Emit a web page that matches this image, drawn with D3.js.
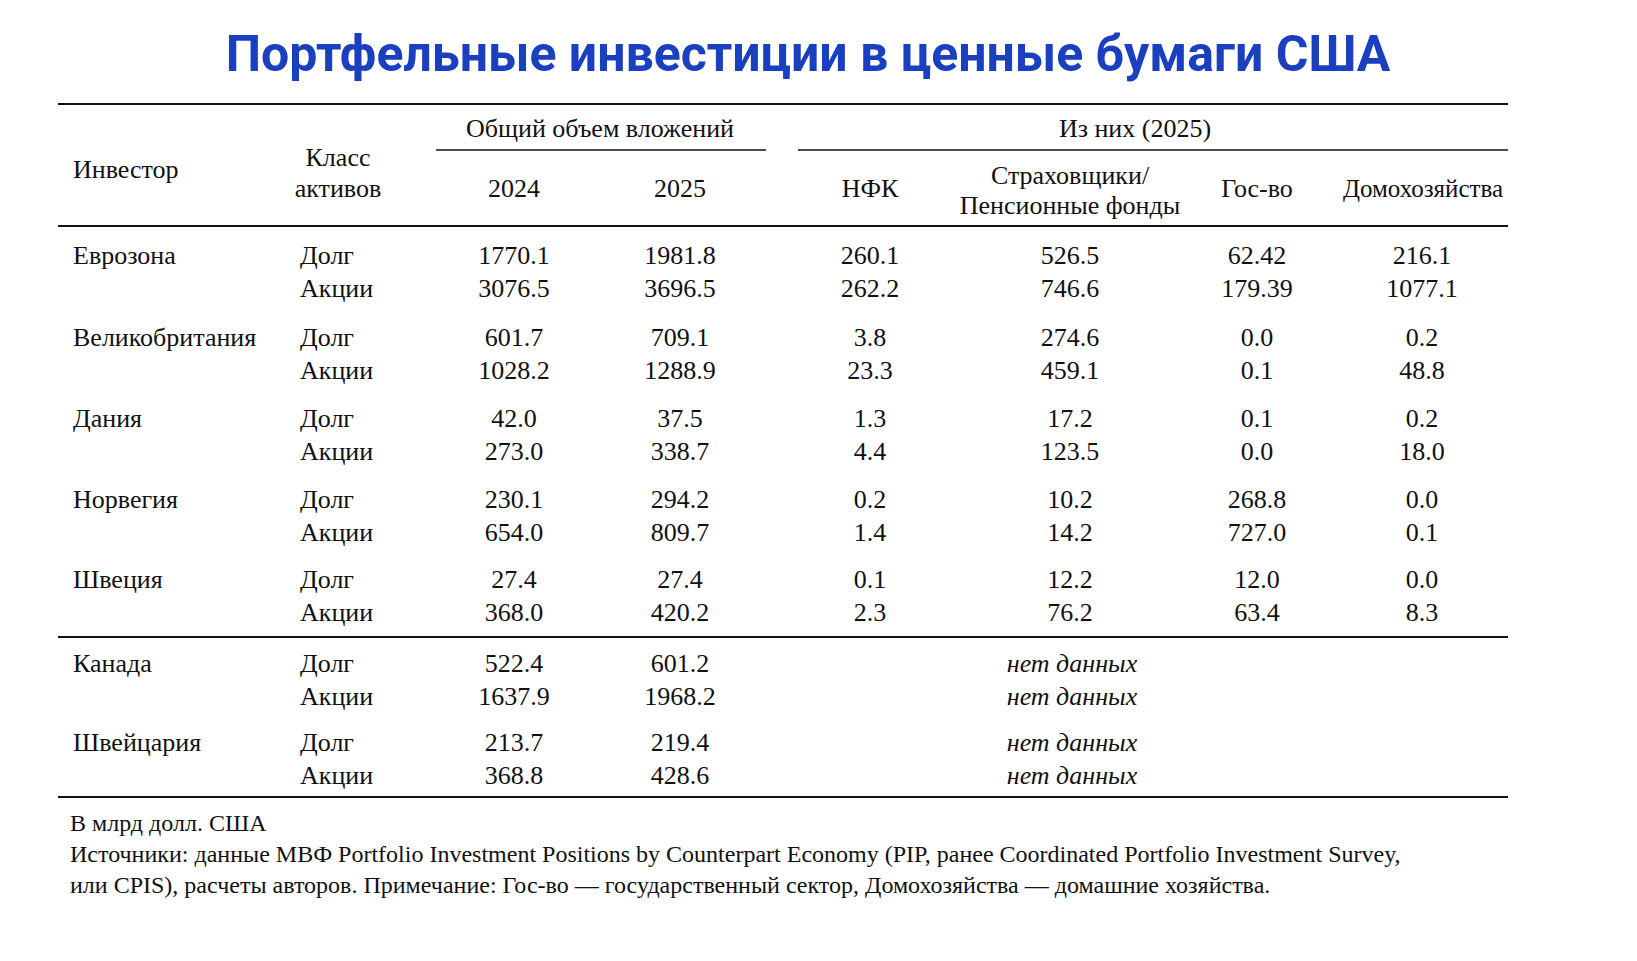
<!DOCTYPE html>
<html><head><meta charset="utf-8">
<script src="https://cdn.jsdelivr.net/npm/d3@7"></script>
<style>body{margin:0;background:#fff}</style></head>
<body><svg id="c" width="1637" height="961"></svg>
<script>
const investors = ["Еврозона","Великобритания","Дания","Норвегия","Швеция","Канада","Швейцария"];
const assetClasses = ["Долг","Акции"];
const total2024 = [["1770.1","3076.5"],["601.7","1028.2"],["42.0","273.0"],["230.1","654.0"],["27.4","368.0"],["522.4","1637.9"],["213.7","368.8"]];
const total2025 = [["1981.8","3696.5"],["709.1","1288.9"],["37.5","338.7"],["294.2","809.7"],["27.4","420.2"],["601.2","1968.2"],["219.4","428.6"]];
const nfk = [["260.1","262.2"],["3.8","23.3"],["1.3","4.4"],["0.2","1.4"],["0.1","2.3"],null,null];
const insurers = [["526.5","746.6"],["274.6","459.1"],["17.2","123.5"],["10.2","14.2"],["12.2","76.2"],null,null];
const gov = [["62.42","179.39"],["0.0","0.1"],["0.1","0.0"],["268.8","727.0"],["12.0","63.4"],null,null];
const households = [["216.1","1077.1"],["0.2","48.8"],["0.2","18.0"],["0.0","0.1"],["0.0","8.3"],null,null];
const noData = "нет данных";

const svg = d3.select("#c");
const F = "'Liberation Serif','DejaVu Serif',serif";
svg.append("text").attr("x",808).attr("y",71).attr("text-anchor","middle")
 .attr("font-family","Roboto,'Open Sans',sans-serif").attr("font-weight",700).attr("font-size",50)
 .attr("fill","#1a3fbf").text("Портфельные инвестиции в ценные бумаги США");
const line=(x1,x2,y,w)=>svg.append("line").attr("x1",x1).attr("x2",x2).attr("y1",y).attr("y2",y).attr("stroke","#111").attr("stroke-width",w);
line(58,1508,104,2); line(436,766,150,1.5); line(798,1508,150,1.5); line(58,1508,226,2); line(58,1508,637,2); line(58,1508,797,2);
const t=(x,y,s,a="middle",st="normal",fs=26)=>svg.append("text").attr("x",x).attr("y",y).attr("text-anchor",a)
 .attr("font-family",F).attr("font-size",fs).attr("font-style",st).attr("fill","#111").text(s);
t(73,178,"Инвестор","start"); t(338,166,"Класс"); t(338,197,"активов");
t(600,137,"Общий объем вложений"); t(1135,137,"Из них (2025)");
t(514,197,"2024"); t(680,197,"2025"); t(870,197,"НФК");
t(1070,184,"Страховщики/"); t(1070,214,"Пенсионные фонды"); t(1257,197,"Гос-во"); t(1423,197,"Домохозяйства","middle","normal",25);

const y = d3.scaleLinear().domain([0,1]).range([0,33]);
const groupY = [264,346,427,508,588,672,751];
const cols = [[514,total2024],[680,total2025],[870,nfk],[1070,insurers],[1257,gov],[1422,households]];
investors.forEach((inv,i)=>{
  t(73,groupY[i],inv,"start");
  assetClasses.forEach((ac,j)=>{
    const yy=groupY[i]+y(j);
    t(300,yy,ac,"start");
    cols.forEach(([x,arr])=>{ if(arr[i]) t(x,yy,arr[i][j]); });
    if(!nfk[i]) t(1072,yy,noData,"middle","italic");
  });
});
t(70,831,"В млрд долл. США","start","normal",24);
t(70,862,"Источники: данные МВФ Portfolio Investment Positions by Counterpart Economy (PIP, ранее Coordinated Portfolio Investment Survey,","start","normal",24);
t(70,893,"или CPIS), расчеты авторов. Примечание: Гос-во — государственный сектор, Домохозяйства — домашние хозяйства.","start","normal",24);
</script></body></html>
